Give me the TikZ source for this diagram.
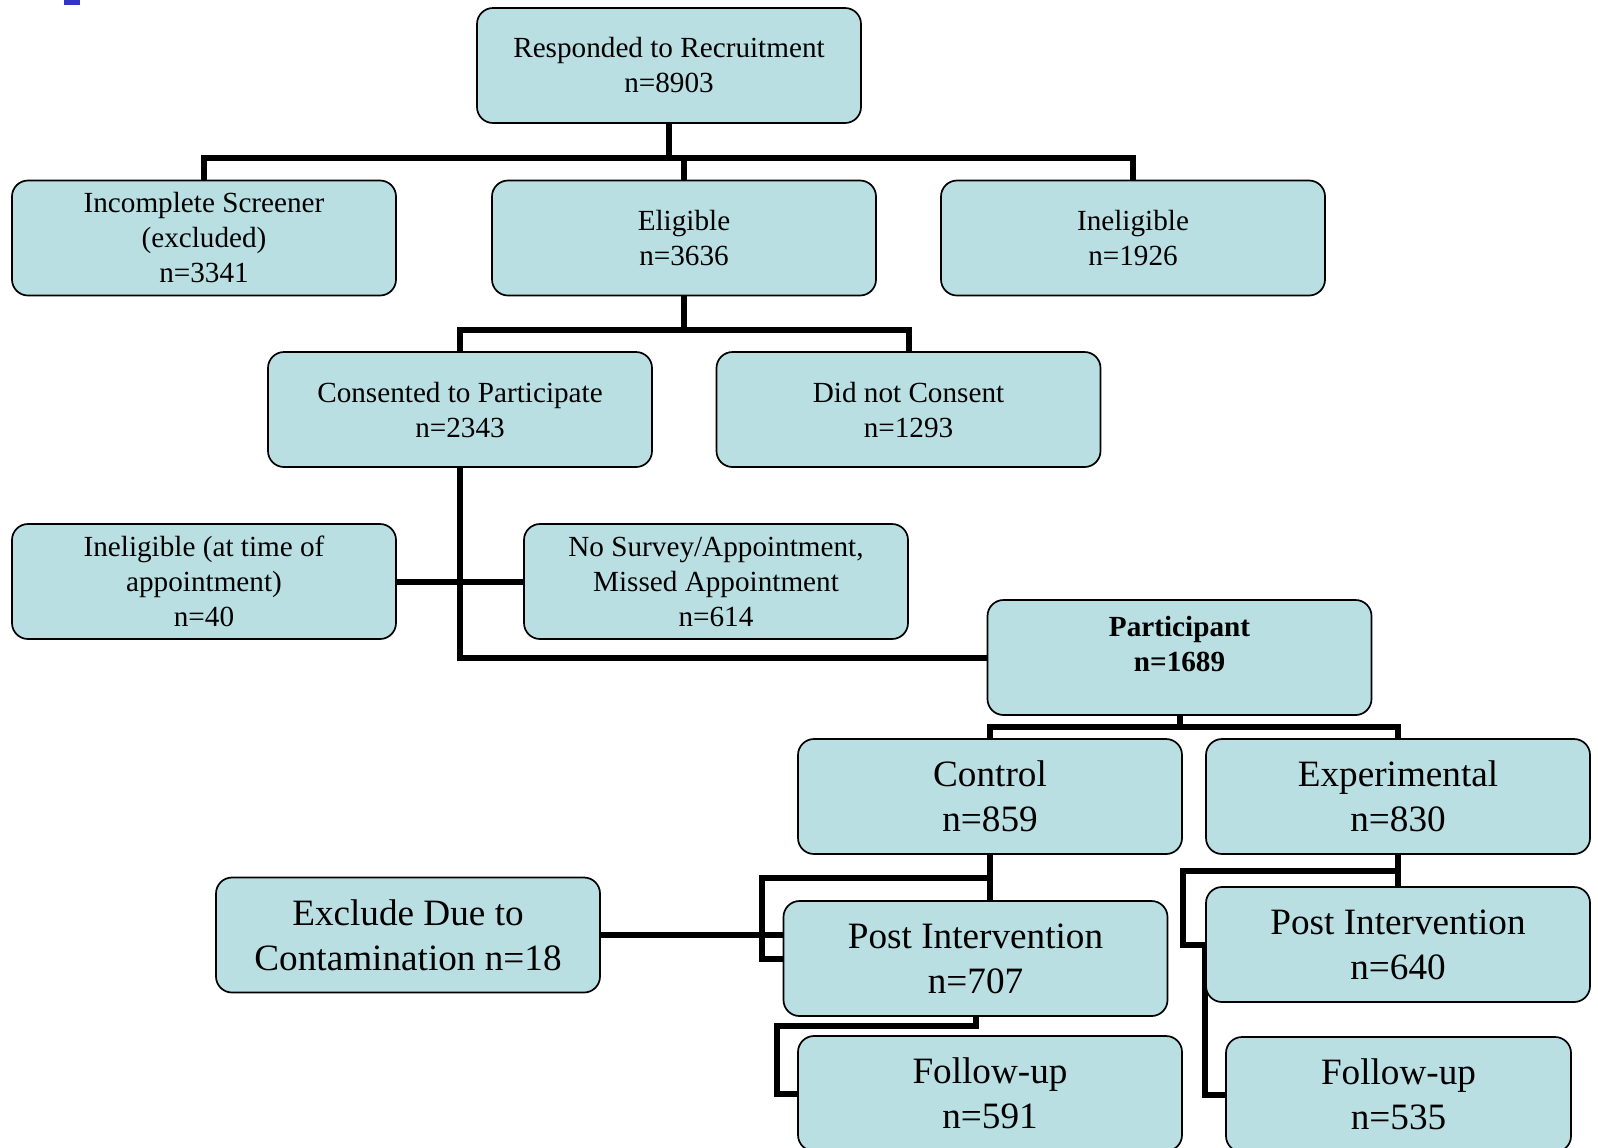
\documentclass[tikz,border=0pt]{standalone}
\usepackage{fontspec}
\setmainfont{Liberation Serif}
\usetikzlibrary{backgrounds}
\definecolor{boxfill}{RGB}{185,223,227}
\definecolor{markblue}{RGB}{51,51,204}
\newcommand{\fsmall}{\fontsize{14.6pt}{17.5pt}\selectfont}
\newcommand{\fbig}{\fontsize{18.6pt}{22.4pt}\selectfont}
\begin{document}
\begin{tikzpicture}[x=0.5pt,y=-0.5pt,
  box/.style={draw=black, line width=0.85pt, fill=boxfill, rounded corners=8pt,
    minimum width=192pt, minimum height=57.5pt, inner sep=0pt, align=center, text=black},
  sbox/.style={box, font=\fsmall},
  bbox/.style={box, font=\fbig},
  lbl/.style={align=center, inner sep=0pt, text=black},
  conn/.style={draw=black, line width=3pt, line join=miter}]
\useasboundingbox (0,0) rectangle (1598,1147);
\fill[markblue] (64,0) rectangle (80,5);

\node[sbox] (top) at (669,65.5) {Responded to Recruitment\\n=8903};
\node[sbox] (inc) at (204,238) {Incomplete Screener\\(excluded)\\n=3341};
\node[sbox] (elig) at (684,238) {Eligible\\n=3636};
\node[sbox] (inel) at (1133,238) {Ineligible\\n=1926};
\node[sbox] (cons) at (460,409.5) {Consented to Participate\\n=2343};
\node[sbox] (dnc) at (908.5,409.5) {Did not Consent\\n=1293};
\node[sbox] (inat) at (204,581.5) {Ineligible (at time of\\appointment)\\n=40};
\node[sbox] (nosv) at (716,581.5) {No Survey/Appointment,\\Missed Appointment\\n=614};
\node[sbox] (part) at (1179.5,657.5) {};
\node[lbl, font=\fsmall\bfseries] (partT) at (1179.5,644) {Participant\\n=1689};
\node[bbox] (ctrl) at (990,796.5) {Control\\n=859};
\node[bbox] (expe) at (1398,796.5) {Experimental\\n=830};
\node[bbox] (excl) at (408,935) {Exclude Due to\\Contamination n=18};
\node[bbox] (pi1) at (975.5,958.5) {Post Intervention\\n=707};
\node[bbox] (pi2) at (1398,944.5) {Post Intervention\\n=640};
\node[bbox] (fu1) at (990,1093.5) {Follow-up\\n=591};
\node[bbox, minimum width=172.5pt] (fu2) at (1398.5,1094.5) {Follow-up\\n=535};

\begin{scope}[on background layer]
\coordinate (h1) at (0,158);
\draw[conn] (top.south) -- (top.south |- h1);
\draw[conn] (inc.north) |- (inel.north |- h1) -- (inel.north);
\draw[conn] (elig.north) -- (elig.north |- h1);

\coordinate (h2) at (0,330);
\draw[conn] (elig.south) -- (elig.south |- h2);
\draw[conn] (cons.north) |- (dnc.north |- h2) -- (dnc.north);

\draw[conn] (cons.south) |- (part.west);
\draw[conn] (inat.east) -- (nosv.west);

\coordinate (h3) at (0,727);
\draw[conn] (part.south) -- (part.south |- h3);
\draw[conn] (ctrl.north) |- (expe.north |- h3) -- (expe.north);

\draw[conn] (ctrl.south) -- (ctrl.south |- pi1.north);
\coordinate (k1) at (762,878);
\draw[conn] (ctrl.south |- k1) -- (k1) |- (pi1.west);
\draw[conn] (excl.east) -- (pi1.west |- excl.east);
\coordinate (k2) at (777,1026);
\draw[conn] (pi1.south) |- (k2) |- (fu1.west);

\draw[conn] (expe.south) -- (pi2.north);
\coordinate (k3) at (1183,871);
\draw[conn] (expe.south |- k3) -- (k3) |- (pi2.west) |- (fu2.west);
\end{scope}
\end{tikzpicture}
\end{document}
